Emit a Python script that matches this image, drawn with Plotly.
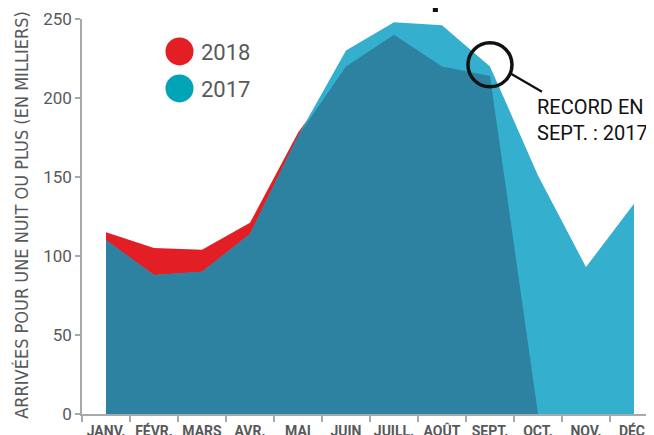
import plotly.graph_objects as go

months = ["JANV.", "FÉVR.", "MARS", "AVR.", "MAI", "JUIN", "JUILL.", "AOÛT", "SEPT.", "OCT.", "NOV.", "DÉC."]
arrivals_2017 = [110, 88, 90, 114, 176, 230, 248, 246, 220, 151, 93, 133]
arrivals_2018 = [115, 105, 104, 121, 178, 220, 240, 220, 214, 0, None, None]
y_ticks = [0, 50, 100, 150, 200, 250]
series_names = ["2018", "2017"]
annotation_text = "RECORD EN<br>SEPT. : 2017"
y_title = "ARRIVÉES POUR UNE NUIT OU PLUS (EN MILLIERS)"
title_fragment = "p"

RED = "#E31E24"
LIGHT = "#34AFCE"
DARK = "#2C82A0"
LEG17 = "#00A4B6"
GREY = "#58595B"
AXIS = "#A7A9AC"
NARROW = "DejaVu Sans Condensed, sans-serif"
REG = "Roboto, Liberation Sans, sans-serif"

overlap = [min(a, b) if (a is not None and b is not None) else None
           for a, b in zip(arrivals_2017, arrivals_2018)]

fig = go.Figure()
fig.add_trace(go.Scatter(x=months, y=arrivals_2018, mode="none", fill="tozeroy",
                         fillcolor=RED, name="2018", showlegend=False))
fig.add_trace(go.Scatter(x=months, y=arrivals_2017, mode="none", fill="tozeroy",
                         fillcolor=LIGHT, name="2017", showlegend=False))
fig.add_trace(go.Scatter(x=months, y=overlap, mode="none", fill="tozeroy",
                         fillcolor=DARK, name="both", showlegend=False))

# page has an 8px body margin: figure is drawn from page (8, 8)
OFF = 8
PL, PR, PT, PB = 82, 654, 19, 414.5   # plot area in page pixels
W, H = 654 - OFF, 435 - OFF
pw = PR - PL
ph = PB - PT


def px(x):
    return (x - PL) / pw


def py(y):
    return (PB - y) / ph


shapes = []
annotations = []
# legend
for name, col, cy in [(series_names[0], RED, 51.5), (series_names[1], LEG17, 88.5)]:
    shapes.append(dict(type="circle", xref="paper", yref="paper", xsizemode="pixel", ysizemode="pixel",
                       xanchor=px(179.5), yanchor=py(cy), x0=-14, x1=14, y0=-14, y1=14,
                       fillcolor=col, line=dict(width=0)))
    annotations.append(dict(text=name, xref="paper", yref="paper", x=px(199), y=py(cy + 1),
                            xanchor="left", yanchor="middle", showarrow=False,
                            font=dict(family=REG, size=22, color=GREY)))

# record circle + leader line
shapes.append(dict(type="circle", xref="x", yref="y", xsizemode="pixel", ysizemode="pixel",
                   xanchor=8, yanchor=221, x0=-22, x1=22, y0=-22, y1=22,
                   line=dict(color="#111111", width=3.5)))
shapes.append(dict(type="line", xref="x", yref="y", xsizemode="pixel", ysizemode="pixel",
                   xanchor=8, yanchor=221, x0=21, x1=52, y0=-9, y1=-27,
                   line=dict(color="#111111", width=2.2)))
annotations.append(dict(text=annotation_text, xref="paper", yref="paper", x=px(535), y=py(93),
                        xanchor="left", yanchor="top", align="left", showarrow=False,
                        font=dict(family=REG, size=20, color="#111111")))
annotations.append(dict(text=y_title, xref="paper", yref="paper", x=px(22), y=py(215),
                        xanchor="center", yanchor="middle", textangle=-90, showarrow=False,
                        font=dict(family=NARROW, size=18, color=GREY)))
annotations.append(dict(text=title_fragment, xref="paper", yref="paper", x=px(444.5), y=py(17),
                        xanchor="center", yanchor="bottom", showarrow=False,
                        font=dict(family=REG, size=56, color="#111111")))

fig.update_layout(
    width=W, height=H,
    margin=dict(l=PL - OFF, r=0, t=PT - OFF, b=H - (PB - OFF), pad=0, autoexpand=False),
    plot_bgcolor="white", paper_bgcolor="white",
    shapes=shapes, annotations=annotations,
    xaxis=dict(type="category", range=[-0.5, 11.417], tickson="boundaries", automargin=False,
               ticks="outside", ticklen=6, tickcolor=AXIS, tickwidth=1.5, tickangle=0,
               showline=True, linecolor=AXIS, linewidth=1.5, showgrid=False,
               ticklabelstandoff=3,
               tickfont=dict(family=REG, size=14, color=GREY, weight="bold")),
    yaxis=dict(range=[0, 250], tickvals=y_ticks, ticks="outside", ticklen=5, automargin=False,
               tickcolor=AXIS, tickwidth=1.5, showline=True, linecolor=AXIS, linewidth=1.5,
               showgrid=False, zeroline=False,
               tickfont=dict(family=REG, size=17, color=GREY)),
)

fig.write_html("out.html")
